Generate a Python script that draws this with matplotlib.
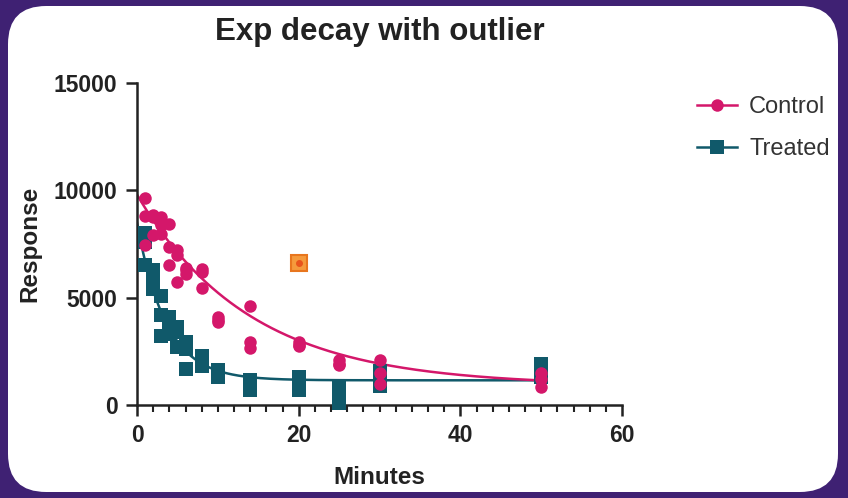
import numpy as np
import matplotlib
matplotlib.use("Agg")
import matplotlib.pyplot as plt
from matplotlib.patches import FancyBboxPatch
from matplotlib.ticker import MultipleLocator

# ---- data ----
minutes = [1, 2, 3, 4, 5, 6, 8, 10, 14, 20, 25, 30, 50]
control = [
    [9650, 8800, 7450],
    [8750, 8850, 7900],
    [8750, 8400, 7950],
    [8450, 7350, 6500],
    [7200, 5750, 7000],
    [6400, 6300, 6100],
    [6350, 6200, 5450],
    [4100, 3850, 3950],
    [4600, 2950, 2650],
    [2950, 2800, 2750],
    [2100, 1900, 1850],
    [2100, 1500, 1000],
    [1500, 1200, 850],
]
treated = [
    [8000, 7600, 6500],
    [6300, 5400, 6000],
    [5100, 4200, 3200],
    [4100, 3800, 3300],
    [3650, 2700, 3400],
    [2950, 1700, 2600],
    [2100, 1800, 2300],
    [1650, 1500, 1300],
    [1150, 700, 900],
    [1300, 700, 1000],
    [900, 100, 500],
    [1600, 1200, 900],
    [1900, 1600, 1300],
]
outlier_x = [20]
outlier_y = [6600]
series_names = ["Control", "Treated"]
# one-phase decay fits: [Control, Treated]
fit_y0 = [9800, 8500]
fit_plateau = [900, 1150]
fit_k = [0.072, 0.28]
x_ticks = [0, 20, 40, 60]
y_ticks = [0, 5000, 10000, 15000]

PINK = "#d4176a"
TEAL = "#10596a"
PURPLE = "#3f2173"

plt.rcParams["font.family"] = ["Liberation Sans", "DejaVu Sans"]

fig = plt.figure(figsize=(8.48, 4.98), dpi=100)
fig.patch.set_facecolor(PURPLE)
card = FancyBboxPatch((8 / 848, 6 / 498), 830 / 848, 486 / 498,
                      boxstyle="round,pad=0,rounding_size=0.045",
                      transform=fig.transFigure, facecolor="white",
                      edgecolor="none", zorder=-10,
                      mutation_aspect=848 / 498)
fig.patches.append(card)

ax = fig.add_axes([137 / 848, 1 - 405 / 498, (622 - 137) / 848, (405 - 83) / 498])
ax.set_facecolor("none")
ax.set_zorder(2)

styles = {"Control": (control, PINK, "o", 9, 4),
          "Treated": (treated, TEAL, "s", 9.5, 3)}
handles = {}
for i, name in enumerate(series_names):
    data, color, marker, ms, z = styles[name]
    xs = np.repeat(np.array(minutes, float), 3)
    ys = np.array(data, float).ravel()
    xx = np.linspace(0, max(minutes), 400)
    yy = fit_plateau[i] + (fit_y0[i] - fit_plateau[i]) * np.exp(-fit_k[i] * xx)
    ax.plot(xx, yy, color=color, lw=1.8, zorder=z - 2)
    ax.plot(xs, ys, linestyle="none", marker=marker, ms=ms, color=color,
            markeredgewidth=0, zorder=z, clip_on=False)
    h, = ax.plot([], [], color=color, lw=1.8, marker=marker, ms=ms,
                 markeredgewidth=0)
    handles[name] = h

ax.plot(outlier_x, outlier_y, linestyle="none", marker="s", ms=12,
        markerfacecolor="#f59a3c", markeredgecolor="#e8761e",
        markeredgewidth=1.5, zorder=6)
ax.plot(outlier_x, outlier_y, linestyle="none", marker="o", ms=4,
        color="#e8541c", zorder=7)

ax.set_xlim(0, 60)
ax.set_ylim(0, 15000)
ax.set_xticks(x_ticks)
ax.set_yticks(y_ticks)
ax.xaxis.set_minor_locator(MultipleLocator(2))
for s in ["top", "right"]:
    ax.spines[s].set_visible(False)
for s in ["left", "bottom"]:
    ax.spines[s].set_linewidth(1.8)
    ax.spines[s].set_color("#222222")
ax.tick_params(axis="both", which="major", length=8, width=1.8,
               color="#222222", labelsize=16.5, pad=6)
ax.tick_params(axis="x", which="minor", length=5, width=1.5, color="#222222")
for lab in ax.get_xticklabels() + ax.get_yticklabels():
    lab.set_fontweight("bold")
    lab.set_color("#222222")

ax.set_xlabel("Minutes", fontsize=17.5, fontweight="bold", color="#222222",
              labelpad=13)
ax.set_ylabel("Response", fontsize=17.5, fontweight="bold", color="#222222",
              labelpad=9)
fig.text(379.5 / 848, 1 - 32 / 498, "Exp decay with outlier", ha="center",
         va="center", fontsize=22.5, fontweight="bold", color="#222222")

leg = fig.legend([handles[n] for n in series_names], series_names,
                 loc="upper left", bbox_to_anchor=(676 / 848, 1 - 75 / 498),
                 frameon=False, fontsize=17, handlelength=1.7,
                 handletextpad=0.5, labelspacing=0.85)
for t in leg.get_texts():
    t.set_color("#333333")

fig.savefig("out.png", dpi=100, facecolor=fig.get_facecolor())
